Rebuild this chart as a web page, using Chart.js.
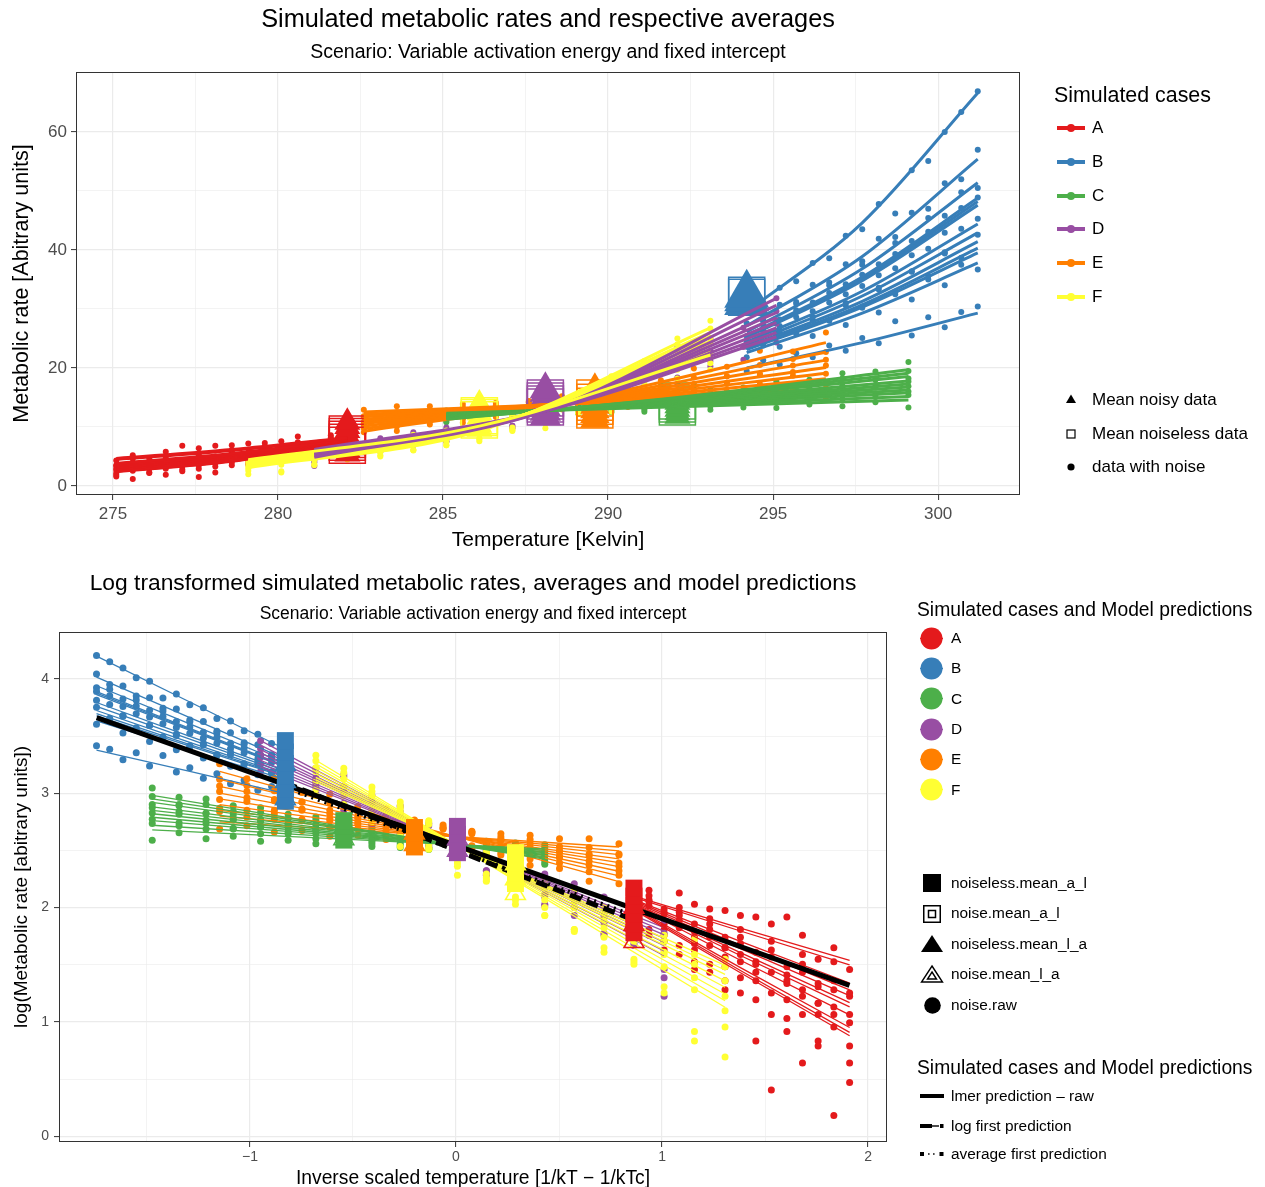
<!DOCTYPE html>
<html>
<head>
<meta charset="utf-8">
<title>Simulated metabolic rates</title>
<script src="https://cdn.jsdelivr.net/npm/chart.js@4.4.1/dist/chart.umd.min.js"></script>
<style>
  html, body { margin: 0; padding: 0; background: #fff; }
  body { position: relative; width: 1265px; height: 1187px; overflow: hidden;
         font-family: "Liberation Sans", Arial, Helvetica, sans-serif; }
  #topChart { position: absolute; left: 0; top: 0; }
  #bottomChart { position: absolute; left: 0; top: 560px; }
  .lbl { position: absolute; white-space: nowrap; color: #000; }
  .key { position: absolute; overflow: visible; }
</style>
</head>
<body>
<canvas id="topChart" width="1265" height="555"></canvas>
<canvas id="bottomChart" width="1265" height="640"></canvas>
<div id="legends"></div>
<script>
Chart.defaults.font.family = '"Liberation Sans", Arial, Helvetica, sans-serif';
Chart.defaults.color = "#000";

const caseNames = ["A", "B", "C", "D", "E", "F"];
const caseColors = ["#E41A1C", "#377EB8", "#4DAF4A", "#984EA3", "#FF7F00", "#FFFF33"];

// measurement temperatures (Kelvin) of each simulated case
const tempsA = [275.1, 275.6, 276.1, 276.6, 277.1, 277.6, 278.1, 278.6, 279.1, 279.6, 280.1, 280.6, 281.1, 281.6, 282.1];
const tempsB = [294.2, 294.7, 295.2, 295.7, 296.2, 296.7, 297.2, 297.7, 298.2, 298.7, 299.2, 299.7, 300.2, 300.7, 301.2];
const tempsC = [285.1, 286.1, 287.1, 288.1, 289.1, 290.1, 291.1, 292.1, 293.1, 294.1, 295.1, 296.1, 297.1, 298.1, 299.1];
const tempsD = [281.1, 282.1, 283.1, 284.1, 285.1, 286.1, 287.1, 288.1, 289.1, 290.1, 291.1, 292.1, 293.1, 294.1, 295.1];
const tempsE = [282.6, 283.6, 284.6, 285.6, 286.6, 287.6, 288.6, 289.6, 290.6, 291.6, 292.6, 293.6, 294.6, 295.6, 296.6];
const tempsF = [279.1, 280.1, 281.1, 282.1, 283.1, 284.1, 285.1, 286.1, 287.1, 288.1, 289.1, 290.1, 291.1, 292.1, 293.1];

// fitted rate of every replicate at the first, middle and last temperature
const linesA = [[4.66, 6.17, 8.17], [4.48, 6.02, 8.08], [3.82, 5.50, 7.92], [3.60, 5.31, 7.85], [3.42, 5.16, 7.77], [3.22, 4.98, 7.69],
                [3.10, 4.86, 7.61], [2.89, 4.66, 7.54], [2.59, 4.37, 7.39], [2.48, 4.26, 7.32], [2.41, 4.18, 7.24]];
const linesB = [[29.5, 44.6, 66.6], [27.1, 38.9, 55.4], [26.1, 36.8, 51.4], [25.5, 35.4, 48.8], [25.3, 35.1, 48.2], [25.2, 34.8, 47.6],
                [24.4, 33.0, 44.4], [24.0, 32.2, 42.9], [23.6, 31.3, 41.4], [23.3, 30.7, 40.3], [23.1, 30.3, 39.5], [22.6, 29.3, 37.8],
                [20.0, 24.3, 29.3]];
const linesC = [[11.29, 15.01, 19.69], [11.39, 14.85, 19.11], [11.50, 14.69, 18.54], [11.63, 14.47, 17.81], [11.73, 14.31, 17.29],
                [11.84, 14.15, 16.78], [11.94, 14.00, 16.28], [12.05, 13.83, 15.80], [12.18, 13.64, 15.18], [12.33, 13.44, 14.58]];
const linesD = [[4.85, 12.72, 31.8], [5.06, 12.73, 30.6], [5.29, 12.73, 29.4], [5.46, 12.73, 28.5], [5.64, 12.73, 27.7],
                [5.82, 12.74, 26.8], [6.01, 12.74, 26.0], [6.20, 12.74, 25.3]];
const linesE = [[9.27, 15.18, 24.29], [9.74, 15.00, 22.65], [10.15, 14.84, 21.33], [10.57, 14.69, 20.09], [10.94, 14.56, 19.11],
                [11.32, 14.42, 18.17], [11.73, 14.30, 17.29], [12.13, 14.18, 16.44], [12.55, 14.06, 15.64]];
const linesF = [[3.09, 9.35, 26.8], [3.27, 9.47, 26.0], [3.47, 9.59, 25.3], [3.68, 9.72, 24.5], [3.89, 9.84, 23.8],
                [4.12, 9.96, 23.1], [4.28, 10.05, 22.6], [4.46, 10.14, 22.2]];

// noisy observations, one row per replicate, one column per temperature
const pointsA = [
  [4.3, 5.2, 4.7, 5.8, 6.8, 6.4, 6.8, 6.9, 7.2, 7.3, 7.6, 8.4, 7.0, 8.6, 7.7],
  [3.4, 4.6, 3.7, 4.9, 4.1, 5.5, 4.6, 6.1, 5.2, 6.7, 5.7, 7.4, 6.4, 8.2, 7.3],
  [2.7, 3.9, 3.2, 4.5, 3.8, 5.1, 4.2, 5.7, 4.8, 6.4, 5.4, 7.1, 6.1, 7.9, 7.0],
  [2.2, 3.6, 2.9, 4.2, 3.3, 4.8, 3.9, 5.4, 4.4, 6.1, 5.1, 6.9, 5.8, 7.8, 6.6],
  [3.5, 2.6, 3.8, 2.9, 4.4, 3.5, 5.0, 4.0, 5.7, 4.5, 6.4, 5.3, 7.3, 6.1, 8.1],
  [1.6, 3.1, 2.3, 3.6, 2.8, 4.2, 3.3, 4.9, 3.9, 5.7, 4.6, 6.6, 5.5, 7.5, 6.4],
  [2.9, 1.2, 3.2, 1.9, 3.9, 2.9, 4.5, 3.5, 5.2, 4.2, 6.0, 4.9, 7.1, 5.8, 8.0],
  [1.9, 2.9, 2.2, 3.4, 2.5, 1.5, 2.3, 4.6, 3.6, 5.3, 4.3, 6.2, 5.1, 7.0, 6.0]
];
const pointsB = [
  [30.1, 31.0, 33.6, 34.7, 37.8, 38.6, 42.4, 43.5, 47.8, 46.2, 53.5, 55.1, 60.0, 63.4, 66.9],
  [27.6, 28.1, 30.7, 31.2, 34.1, 34.5, 37.6, 38.1, 41.9, 42.2, 46.3, 47.0, 51.3, 52.0, 57.0],
  [25.4, 27.9, 28.2, 30.9, 31.1, 34.0, 34.2, 37.5, 37.6, 41.2, 41.5, 45.4, 45.8, 49.8, 50.5],
  [24.7, 27.2, 27.1, 29.8, 29.6, 32.7, 32.5, 35.8, 35.7, 39.3, 39.1, 43.1, 42.9, 47.1, 48.9],
  [23.6, 26.3, 25.9, 28.6, 28.1, 31.1, 30.6, 33.9, 33.3, 36.9, 36.3, 40.2, 39.6, 43.6, 45.3],
  [24.3, 23.8, 26.4, 25.8, 28.6, 28.0, 31.0, 30.4, 33.6, 32.9, 36.4, 35.6, 39.4, 38.7, 42.6],
  [21.8, 24.2, 23.6, 26.0, 25.4, 28.1, 27.3, 30.2, 29.4, 32.5, 31.6, 35.0, 34.0, 37.5, 36.7],
  [19.5, 21.3, 20.6, 22.5, 21.8, 23.8, 22.9, 25.1, 24.2, 27.9, 25.5, 28.6, 26.9, 29.5, 30.4]
];
const pointsC = [
  [11.9, 11.2, 12.9, 12.1, 13.9, 13.2, 15.1, 14.2, 16.3, 15.4, 17.7, 16.6, 19.1, 18.0, 21.0],
  [10.8, 12.4, 11.6, 13.4, 12.5, 14.4, 13.5, 15.5, 14.6, 16.7, 15.7, 18.0, 16.9, 19.4, 18.2],
  [12.1, 11.3, 13.0, 12.1, 13.9, 12.9, 14.8, 13.8, 15.9, 14.9, 17.0, 15.9, 18.2, 17.1, 19.5],
  [11.0, 12.6, 11.7, 13.4, 12.4, 14.2, 13.2, 15.1, 14.1, 16.1, 14.9, 17.1, 15.9, 18.2, 16.9],
  [12.5, 11.5, 13.1, 12.1, 13.8, 12.7, 14.5, 13.4, 15.2, 14.1, 16.0, 14.8, 16.8, 15.5, 17.7],
  [11.3, 12.8, 11.8, 13.4, 12.3, 14.0, 12.9, 14.6, 13.5, 15.3, 14.1, 16.0, 14.7, 16.7, 15.4],
  [12.8, 11.8, 13.2, 12.2, 13.6, 12.5, 14.1, 12.9, 14.5, 13.3, 15.0, 13.8, 15.4, 14.2, 16.0],
  [11.7, 13.0, 12.1, 13.3, 12.3, 13.7, 12.6, 14.0, 12.9, 14.3, 13.2, 14.7, 13.5, 15.1, 13.3]
];
const pointsD = [
  [4.3, 6.1, 5.9, 8.0, 7.6, 10.5, 9.9, 13.6, 13.0, 17.8, 17.0, 23.6, 22.3, 30.4, 29.6],
  [5.9, 5.3, 7.4, 6.9, 9.5, 8.8, 12.1, 11.3, 15.4, 14.5, 19.7, 18.4, 25.0, 23.6, 31.8],
  [3.4, 6.9, 6.5, 8.6, 8.1, 10.8, 10.2, 13.6, 12.8, 17.1, 16.1, 21.4, 20.3, 26.8, 25.9],
  [6.6, 5.4, 8.1, 7.4, 9.9, 9.2, 12.2, 11.4, 15.1, 14.0, 18.6, 17.3, 22.9, 21.4, 28.1],
  [5.5, 7.5, 6.8, 9.1, 8.3, 11.1, 10.2, 13.6, 12.5, 16.6, 15.3, 20.3, 21.7, 23.6, 24.3],
  [4.0, 6.4, 5.8, 8.4, 7.5, 10.9, 9.8, 13.8, 12.7, 18.0, 16.4, 23.2, 21.2, 29.6, 27.5]
];
const pointsE = [
  [10.2, 9.3, 11.6, 10.7, 13.3, 12.4, 15.2, 14.0, 17.5, 16.1, 19.9, 18.6, 22.9, 21.5, 26.0],
  [9.1, 11.1, 10.4, 12.5, 11.7, 14.1, 13.2, 15.9, 14.9, 17.9, 16.8, 20.2, 19.0, 22.8, 21.4],
  [10.9, 10.1, 12.0, 11.3, 13.4, 12.6, 14.9, 14.0, 16.6, 15.6, 18.4, 17.3, 20.5, 19.3, 22.7],
  [9.8, 11.8, 10.9, 12.9, 11.9, 14.2, 13.1, 15.5, 14.4, 17.0, 15.8, 18.6, 17.3, 20.4, 19.0],
  [11.7, 10.7, 12.6, 11.6, 13.7, 12.6, 14.8, 13.6, 16.0, 14.7, 17.3, 16.0, 18.8, 17.3, 20.4],
  [10.6, 12.5, 11.4, 13.4, 12.2, 14.3, 13.0, 15.3, 13.9, 16.4, 14.9, 17.5, 16.0, 18.7, 17.1],
  [12.9, 11.6, 13.5, 12.2, 14.1, 12.7, 14.7, 13.3, 15.4, 13.9, 16.1, 14.5, 16.8, 15.1, 17.6],
  [11.8, 13.5, 12.2, 13.9, 12.6, 14.4, 13.0, 14.8, 13.4, 15.3, 13.8, 15.8, 14.3, 16.3, 14.7]
];
const pointsF = [
  [2.6, 4.0, 3.7, 5.5, 5.0, 7.4, 6.9, 10.0, 9.4, 13.6, 12.8, 18.6, 17.4, 25.0, 24.3],
  [3.9, 2.3, 5.0, 4.5, 6.6, 6.1, 8.8, 8.1, 11.8, 10.9, 15.8, 14.6, 21.2, 19.7, 28.0],
  [2.0, 4.5, 3.5, 5.9, 5.2, 7.8, 6.9, 10.3, 9.3, 13.7, 12.4, 18.0, 16.6, 24.0, 22.3],
  [4.4, 2.5, 5.5, 4.6, 7.0, 6.1, 9.1, 7.9, 11.9, 10.6, 15.6, 13.9, 20.4, 18.2, 26.7],
  [3.0, 4.9, 4.4, 6.3, 5.7, 8.1, 7.4, 10.5, 9.6, 13.6, 12.4, 17.6, 16.0, 22.8, 20.8],
  [4.7, 3.6, 5.8, 4.7, 7.4, 6.0, 9.4, 7.6, 12.0, 9.8, 15.3, 12.6, 19.6, 16.2, 25.1],
  [3.4, 5.6, 4.9, 7.0, 6.2, 8.7, 7.9, 10.9, 9.9, 13.7, 12.3, 17.1, 15.6, 21.4, 19.7]
];

// per-case averages (rate units), placed at one temperature per case
const meanTemps = [282.1, 294.2, 292.1, 288.1, 289.6, 286.1];
const noiselessMeans = [[6.9, 7.4, 7.9, 8.4, 8.8], [32.0, 32.3], [13.4, 13.9, 14.4],
                        [13.4, 13.9, 14.4, 14.9], [12.9, 13.5, 14.2, 14.9], [11.2, 11.6, 11.9]];
const noisyMeans = [[5.4, 6.2, 7.0, 7.8, 8.6, 9.4, 10.1, 10.8], [31.2, 31.8, 32.4], [11.8, 12.4, 13.0, 13.6, 14.2],
                    [11.8, 12.6, 13.4, 14.2, 15.0, 15.8, 16.4], [11.3, 12.1, 12.9, 13.7, 14.5, 15.3, 16.4],
                    [9.6, 10.3, 11.0, 11.7, 12.4, 13.1, 13.9]];

// averages on the log scale
const logMeanSquares = [[1.78, 1.86, 1.94, 2.02, 2.10, 2.17], [2.93, 3.04, 3.15, 3.26, 3.36, 3.46], [2.59, 2.65, 2.71, 2.76],
                        [2.48, 2.56, 2.64, 2.71], [2.53, 2.59, 2.65, 2.70], [2.21, 2.30, 2.39, 2.48]];
const logMeanTriangles = [[1.70, 1.85, 2.00], [2.95, 3.10, 3.25], [2.60, 2.70], [2.50, 2.60], [2.55, 2.65], [2.12, 2.25, 2.38]];

// model predictions on the log scale
const predX = [-1.744, 1.91];
const lmerPred = [3.66, 1.32];
const meanPredX = [-0.829, 0.863];
const logFirstPred = [3.09, 1.89];
const avgFirstPred = [3.05, 1.93];

// drawing styles
const topTriangleSize = [15, 26, 15, 18, 17, 15];
const topLineOrder = [60, 70, 40, 20, 50, 30];
const bottomLineOrder = [70, 80, 76, 74, 78, 72];

const K_B = 8.617e-5;
const T_C = 288.15;
const invTemp = t => 1 / (K_B * t) - 1 / (K_B * T_C);

const cases = [
  { temps: tempsA, lines: linesA, points: pointsA },
  { temps: tempsB, lines: linesB, points: pointsB },
  { temps: tempsC, lines: linesC, points: pointsC },
  { temps: tempsD, lines: linesD, points: pointsD },
  { temps: tempsE, lines: linesE, points: pointsE },
  { temps: tempsF, lines: linesF, points: pointsF }
];

function gridFor(isMajor) {
  return {
    color: "#ebebeb",
    lineWidth: c => (c.tick && isMajor(c.tick.value)) ? 1.2 : 0.6,
    drawTicks: true,
    tickLength: 5,
    tickWidth: 1,
    tickColor: c => (c.tick && isMajor(c.tick.value)) ? "#333333" : "rgba(0,0,0,0)"
  };
}

const panelFrame = {
  id: "panelFrame",
  afterDatasetsDraw(chart) {
    const { ctx, chartArea: a } = chart;
    ctx.save();
    ctx.strokeStyle = "#333333";
    ctx.lineWidth = 1;
    ctx.strokeRect(Math.round(a.left) + 0.5, Math.round(a.top) + 0.5,
                   Math.round(a.right - a.left) - 1, Math.round(a.bottom - a.top) - 1);
    ctx.restore();
  }
};

// ---------- top chart: raw scale ----------
const topSets = [];
cases.forEach((c, i) => {
  const pts = [];
  c.points.forEach(row => row.forEach((v, j) => pts.push({ x: c.temps[j], y: v })));
  topSets.push({ data: pts, backgroundColor: caseColors[i], borderWidth: 0, pointRadius: 3, order: 200 - i });

  topSets.push({
    data: noiselessMeans[i].map(v => ({ x: meanTemps[i], y: v })),
    pointStyle: "rect", pointRadius: 25.5, backgroundColor: "rgba(0,0,0,0)",
    borderColor: caseColors[i], borderWidth: 1.5, order: 150 - i
  });
  topSets.push({
    data: noisyMeans[i].map(v => ({ x: meanTemps[i], y: v })),
    pointStyle: "triangle", pointRadius: topTriangleSize[i], backgroundColor: caseColors[i],
    borderColor: caseColors[i], borderWidth: 0, order: 120 - i
  });

  c.lines.forEach((l, r) => {
    let ord = topLineOrder[i];
    if (i === 5 && r === c.lines.length - 1) ord = 10;
    topSets.push({
      data: [{ x: c.temps[0], y: l[0] }, { x: c.temps[7], y: l[1] }, { x: c.temps[14], y: l[2] }],
      showLine: true, pointRadius: 0, borderColor: caseColors[i], borderWidth: 3,
      cubicInterpolationMode: "monotone", fill: false, order: ord
    });
  });
});

new Chart(document.getElementById("topChart"), {
  type: "scatter",
  data: { datasets: topSets },
  plugins: [panelFrame],
  options: {
    responsive: false,
    animation: false,
    devicePixelRatio: 1,
    events: [],
    layout: { padding: { left: 0, right: 245, top: 0, bottom: 0 } },
    plugins: {
      legend: { display: false },
      tooltip: { enabled: false },
      title: {
        display: true, fullSize: false, color: "#000",
        text: "Simulated metabolic rates and respective averages",
        font: { size: 25.3, weight: "normal" }, padding: { top: 4.8, bottom: 0 }
      },
      subtitle: {
        display: true, fullSize: false, color: "#000",
        text: "Scenario: Variable activation energy and fixed intercept",
        font: { size: 19.5 }, padding: { top: 6.1, bottom: 7.3 }
      }
    },
    scales: {
      x: {
        type: "linear", min: 273.88, max: 302.48,
        border: { display: false },
        grid: gridFor(v => v % 5 === 0),
        ticks: {
          stepSize: 2.5, includeBounds: false, autoSkip: false, maxRotation: 0, padding: 3.8,
          color: "#4d4d4d", font: { size: 17 }, callback: v => (v % 5 === 0 ? String(v) : "")
        },
        title: { display: true, text: "Temperature [Kelvin]", color: "#000", font: { size: 21 }, padding: { top: 0, bottom: 2.6 } },
        afterFit: s => { s.height = 60; }
      },
      y: {
        type: "linear", min: -1.53, max: 70.17,
        border: { display: false },
        grid: gridFor(v => v % 20 === 0),
        ticks: {
          stepSize: 10, includeBounds: false, autoSkip: false, padding: 4,
          color: "#4d4d4d", font: { size: 17 }, callback: v => (v % 20 === 0 ? String(v) : "")
        },
        title: { display: true, text: "Metabolic rate [Abitrary units]", color: "#000", font: { size: 21.5 }, padding: { top: 9, bottom: 0 } },
        afterFit: s => { s.width = 76; }
      }
    }
  }
});

// ---------- bottom chart: log scale against inverse temperature ----------
const bottomSets = [];
cases.forEach((c, i) => {
  const pts = [];
  c.points.forEach(row => row.forEach((v, j) => pts.push({ x: invTemp(c.temps[j]), y: Math.log(v) })));
  bottomSets.push({ data: pts, backgroundColor: caseColors[i], borderWidth: 0, pointRadius: 3.5, order: 200 - i });

  c.lines.forEach(l => {
    bottomSets.push({
      data: [{ x: invTemp(c.temps[0]), y: Math.log(l[0]) }, { x: invTemp(c.temps[7]), y: Math.log(l[1]) },
             { x: invTemp(c.temps[14]), y: Math.log(l[2]) }],
      showLine: true, pointRadius: 0, borderColor: caseColors[i], borderWidth: 1.3, fill: false,
      order: bottomLineOrder[i]
    });
  });

  bottomSets.push({
    data: logMeanTriangles[i].map(v => ({ x: invTemp(meanTemps[i]), y: v })),
    pointStyle: "triangle", pointRadius: 11.5, backgroundColor: "rgba(0,0,0,0)",
    borderColor: caseColors[i], borderWidth: 1.5, order: 50 - i
  });
  bottomSets.push({
    data: logMeanSquares[i].map(v => ({ x: invTemp(meanTemps[i]), y: v })),
    pointStyle: "rect", pointRadius: 12, backgroundColor: caseColors[i], borderWidth: 0, order: 40 - i
  });
});
bottomSets.push({
  data: meanPredX.map((x, j) => ({ x, y: avgFirstPred[j] })),
  showLine: true, pointRadius: 0, borderColor: "#000", borderWidth: 4, borderDash: [2, 5], order: 62
});
bottomSets.push({
  data: predX.map((x, j) => ({ x, y: lmerPred[j] })),
  showLine: true, pointRadius: 0, borderColor: "#000", borderWidth: 5, order: 61
});
bottomSets.push({
  data: meanPredX.map((x, j) => ({ x, y: logFirstPred[j] })),
  showLine: true, pointRadius: 0, borderColor: "#000", borderWidth: 5, borderDash: [12, 6], order: 60
});

const minusLabel = v => (Number.isInteger(v) ? (v < 0 ? "\u2212" + Math.abs(v) : String(v)) : "");

new Chart(document.getElementById("bottomChart"), {
  type: "scatter",
  data: { datasets: bottomSets },
  plugins: [panelFrame],
  options: {
    responsive: false,
    animation: false,
    devicePixelRatio: 1,
    events: [],
    layout: { padding: { left: 0, right: 378, top: 0, bottom: 0 } },
    plugins: {
      legend: { display: false },
      tooltip: { enabled: false },
      title: {
        display: true, fullSize: false, color: "#000",
        text: "Log transformed simulated metabolic rates, averages and model predictions",
        font: { size: 22.8, weight: "normal" }, padding: { top: 10.3, bottom: 0 }
      },
      subtitle: {
        display: true, fullSize: false, color: "#000",
        text: "Scenario: Variable activation energy and fixed intercept",
        font: { size: 17.5 }, padding: { top: 5.8, bottom: 7.5 }
      }
    },
    scales: {
      x: {
        type: "linear", min: -1.927, max: 2.092,
        border: { display: false },
        grid: gridFor(v => Number.isInteger(v)),
        ticks: {
          stepSize: 0.5, includeBounds: false, autoSkip: false, maxRotation: 0, padding: 1.4,
          color: "#4d4d4d", font: { size: 14 }, callback: minusLabel
        },
        title: { display: true, text: "Inverse scaled temperature [1/kT \u2212 1/kTc]", color: "#000", font: { size: 19.3 }, padding: { top: 0, bottom: 9.4 } },
        afterFit: s => { s.height = 58; }
      },
      y: {
        type: "linear", min: -0.05, max: 4.41,
        border: { display: false },
        grid: gridFor(v => Number.isInteger(v)),
        ticks: {
          stepSize: 0.5, includeBounds: false, autoSkip: false, padding: 5,
          color: "#4d4d4d", font: { size: 14 }, callback: minusLabel
        },
        title: { display: true, text: "log(Metabolic rate [abitrary units])", color: "#000", font: { size: 19 }, padding: { top: 10.6, bottom: 0 } },
        afterFit: s => { s.width = 59; }
      }
    }
  }
});

// ---------- legends ----------
const legendLayer = document.getElementById("legends");
function addLabel(text, left, cy, size) {
  const d = document.createElement("div");
  d.className = "lbl";
  d.textContent = text;
  const lh = Math.round(size * 1.2);
  d.style.left = left + "px";
  d.style.top = (cy - lh / 2) + "px";
  d.style.fontSize = size + "px";
  d.style.lineHeight = lh + "px";
  legendLayer.appendChild(d);
}
function addKey(inner, left, top, w, h) {
  const s = document.createElementNS("http://www.w3.org/2000/svg", "svg");
  s.setAttribute("width", w);
  s.setAttribute("height", h);
  s.setAttribute("class", "key");
  s.style.left = left + "px";
  s.style.top = top + "px";
  s.innerHTML = inner;
  legendLayer.appendChild(s);
}

addLabel("Simulated cases", 1054, 95, 21.4);
caseNames.forEach((name, i) => {
  const cy = 128 + i * 33.8;
  addKey(`<line x1="1" y1="6" x2="29" y2="6" stroke="${caseColors[i]}" stroke-width="4"/>` +
         `<circle cx="15" cy="6" r="4" fill="${caseColors[i]}"/>`, 1056, cy - 6, 30, 12);
  addLabel(name, 1092, cy, 17);
});
addKey('<polygon points="5,0.5 10,9 0,9" fill="#000"/>', 1066, 394, 10, 10);
addLabel("Mean noisy data", 1092, 400, 17);
addKey('<rect x="1" y="1" width="8" height="8" fill="none" stroke="#000" stroke-width="1.2"/>', 1066, 428.5, 10, 10);
addLabel("Mean noiseless data", 1092, 434, 17);
addKey('<circle cx="5" cy="5" r="3.6" fill="#000"/>', 1066, 462, 10, 10);
addLabel("data with noise", 1092, 467, 17);

addLabel("Simulated cases and Model predictions", 917, 609, 19.3);
caseNames.forEach((name, i) => {
  const cy = 638 + i * 30.35;
  addKey(`<line x1="1" y1="12.5" x2="24" y2="12.5" stroke="${caseColors[i]}" stroke-width="1.5"/>` +
         `<circle cx="12.5" cy="12.5" r="11" fill="${caseColors[i]}"/>`, 919, cy - 12.5, 25, 25);
  addLabel(name, 951, cy, 15.4);
});
addKey('<rect x="0" y="0" width="18" height="18" fill="#000"/>', 923, 874, 18, 18);
addLabel("noiseless.mean_a_l", 951, 883, 15.4);
addKey('<rect x="0.75" y="0.75" width="16.5" height="16.5" fill="none" stroke="#000" stroke-width="1.5"/>' +
       '<rect x="5.5" y="5.5" width="7" height="7" fill="none" stroke="#000" stroke-width="1.5"/>', 923, 904.5, 18, 18);
addLabel("noise.mean_a_l", 951, 913, 15.4);
addKey('<polygon points="11,0 22,17 0,17" fill="#000"/>', 921, 935, 22, 17);
addLabel("noiseless.mean_l_a", 951, 943.5, 15.4);
addKey('<polygon points="11,1 21.5,17 0.5,17" fill="none" stroke="#000" stroke-width="1.4"/>' +
       '<polygon points="11,7 15.5,14 6.5,14" fill="none" stroke="#000" stroke-width="1.4"/>', 921, 965, 22, 18);
addLabel("noise.mean_l_a", 951, 974, 15.4);
addKey('<circle cx="8.5" cy="8.5" r="8.3" fill="#000"/>', 923.5, 996.5, 17, 17);
addLabel("noise.raw", 951, 1004.5, 15.4);

addLabel("Simulated cases and Model predictions", 917, 1067, 19.3);
addKey('<rect x="0" y="2" width="24" height="4" fill="#000"/>', 920, 1092, 24, 8);
addLabel("lmer prediction \u2013 raw", 951, 1096, 15.4);
addKey('<rect x="0" y="2" width="12" height="4" fill="#000"/><rect x="12" y="3.3" width="7" height="1.4" fill="#000"/>' +
       '<rect x="20" y="2" width="3.5" height="4" fill="#000"/>', 920, 1121.5, 24, 8);
addLabel("log first prediction", 951, 1125.5, 15.4);
addKey('<rect x="0" y="2" width="4" height="4" fill="#000"/><rect x="8" y="3.3" width="1.6" height="1.4" fill="#000"/>' +
       '<rect x="13" y="3.3" width="1.6" height="1.4" fill="#000"/><rect x="19.5" y="2" width="4" height="4" fill="#000"/>', 920, 1149.5, 24, 8);
addLabel("average first prediction", 951, 1154, 15.4);
</script>
</body>
</html>
